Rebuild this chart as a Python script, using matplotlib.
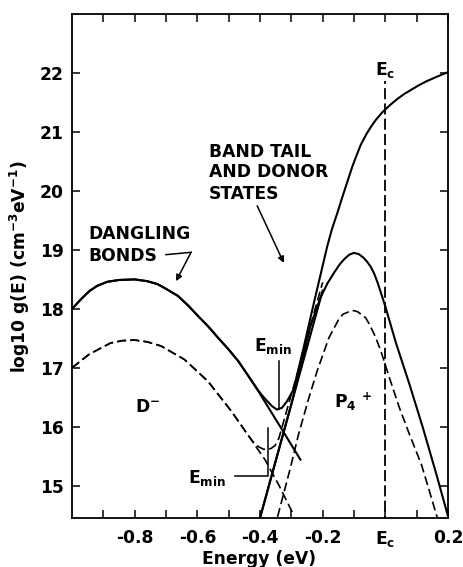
import matplotlib
matplotlib.use("Agg")
import matplotlib.pyplot as plt

# ---------------- data ----------------
# Dangling-bond density, solid (higher doping)
db_solid_E = [-1.0, -0.97, -0.945, -0.92, -0.887, -0.85, -0.80, -0.76, -0.727, -0.70,
              -0.662, -0.63, -0.598, -0.565, -0.534, -0.50, -0.469, -0.437, -0.405,
              -0.34, -0.271]
db_solid_y = [18.0, 18.17, 18.30, 18.39, 18.46, 18.49, 18.50, 18.47, 18.42, 18.34,
              18.22, 18.06, 17.88, 17.70, 17.51, 17.31, 17.11, 16.86, 16.60,
              16.04, 15.44]

# Total density of states, solid
tot_solid_E = [-1.0, -0.97, -0.945, -0.92, -0.887, -0.85, -0.80, -0.76, -0.727, -0.70,
               -0.662, -0.63, -0.598, -0.565, -0.534, -0.50, -0.469, -0.437, -0.405,
               -0.39, -0.378, -0.362, -0.346, -0.33, -0.314, -0.293, -0.26, -0.225,
               -0.185, -0.17, -0.153, -0.14, -0.126, -0.115, -0.105, -0.09, -0.078,
               -0.06, -0.046, -0.03, -0.009, 0.015, 0.04, 0.061, 0.08, 0.105, 0.13,
               0.16, 0.2]
tot_solid_y = [18.0, 18.17, 18.30, 18.39, 18.46, 18.49, 18.50, 18.47, 18.42, 18.34,
               18.22, 18.06, 17.88, 17.70, 17.51, 17.31, 17.11, 16.86, 16.61,
               16.51, 16.44, 16.35, 16.29, 16.32, 16.43, 16.63, 17.36, 18.17,
               19.07, 19.36, 19.63, 19.85, 20.08, 20.26, 20.42, 20.63, 20.79,
               20.97, 21.09, 21.21, 21.34, 21.46, 21.57, 21.65, 21.71, 21.79, 21.86,
               21.93, 22.02]

# Band tail (straight line)
tail_E = [-0.40, -0.30, -0.20]
tail_y = [14.45, 16.38, 18.31]

# P4+ donor states, solid
p4_solid_E = [-0.40, -0.35, -0.30, -0.26, -0.239, -0.207, -0.185, -0.164, -0.145, -0.13,
              -0.115, -0.10, -0.085, -0.07, -0.058, -0.046, -0.035, -0.025, -0.017,
              -0.009, 0.0, 0.034, 0.077, 0.12, 0.163, 0.2]
p4_solid_y = [14.45, 15.42, 16.38, 17.25, 17.71, 18.19, 18.43, 18.61, 18.76, 18.85,
              18.92, 18.95, 18.93, 18.87, 18.80, 18.71, 18.59, 18.45, 18.32,
              18.19, 18.04, 17.42, 16.72, 15.98, 15.19, 14.48]

# Dangling bonds, dashed (lower doping)
db_dash_E = [-1.0, -0.945, -0.877, -0.84, -0.80, -0.76, -0.716, -0.641, -0.566, -0.491,
             -0.44, -0.384, -0.34, -0.297]
db_dash_y = [17.0, 17.23, 17.42, 17.46, 17.47, 17.44, 17.37, 17.14, 16.77, 16.26,
             15.87, 15.44, 15.01, 14.55]

# Total, dashed
tot_dash_E = [-1.0, -0.945, -0.877, -0.84, -0.80, -0.76, -0.716, -0.641, -0.566, -0.491,
              -0.44, -0.42, -0.405, -0.39, -0.378, -0.365, -0.352, -0.34, -0.325,
              -0.30, -0.26, -0.225, -0.20]
tot_dash_y = [17.0, 17.23, 17.42, 17.46, 17.47, 17.44, 17.37, 17.14, 16.77, 16.26,
              15.87, 15.73, 15.66, 15.62, 15.61, 15.63, 15.68, 15.80, 16.08,
              16.55, 17.28, 17.98, 18.45]

# P4+ donor states, dashed
p4_dash_E = [-0.344, -0.303, -0.277, -0.244, -0.218, -0.18, -0.148, -0.135, -0.112,
             -0.10, -0.088, -0.063, -0.051, -0.032, -0.014, 0.013, 0.045, 0.077,
             0.115, 0.141, 0.166]
p4_dash_y = [14.47, 15.30, 15.87, 16.49, 16.94, 17.51, 17.83, 17.91, 17.96,
             17.97, 17.95, 17.85, 17.74, 17.53, 17.28, 16.83, 16.32, 15.87,
             15.36, 14.90, 14.45]

# Conduction-band edge
Ec = 0.0
Ec_top = 21.87

x_major = [-0.8, -0.6, -0.4, -0.2, 0.0, 0.2]
x_major_labels = ["-0.8", "-0.6", "-0.4", "-0.2", "E$_c$", "0.2"]
x_minor = [-0.9, -0.7, -0.5, -0.3, -0.1, 0.1]
y_ticks = [15, 16, 17, 18, 19, 20, 21, 22]
y_tick_labels = ["15", "16", "17", "18", "19", "20", "21", "22"]

# ---------------- style ----------------
plt.rcParams["font.family"] = ["DejaVu Sans"]
plt.rcParams["font.weight"] = "bold"
plt.rcParams["mathtext.fontset"] = "dejavusans"
plt.rcParams["mathtext.default"] = "bf"
plt.rcParams["axes.unicode_minus"] = False
plt.rcParams["lines.scale_dashes"] = False

FS = 12.3
LW = 1.5
DLW = 1.2
DASH = (6.5, 3.0)

fig = plt.figure(figsize=(4.64, 5.67), dpi=100)
ax = fig.add_axes([72 / 464, 49 / 567, 376 / 464, 503.7 / 567])

line_kw = dict(color="black", solid_joinstyle="round", dash_joinstyle="round")
ax.plot(db_solid_E, db_solid_y, lw=LW, **line_kw)
ax.plot(tot_solid_E, tot_solid_y, lw=LW, **line_kw)
ax.plot(tail_E, tail_y, lw=LW, **line_kw)
ax.plot(p4_solid_E, p4_solid_y, lw=LW, **line_kw)
ax.plot(db_dash_E, db_dash_y, lw=DLW, dashes=DASH, **line_kw)
ax.plot(tot_dash_E, tot_dash_y, lw=DLW, dashes=DASH, **line_kw)
ax.plot(p4_dash_E, p4_dash_y, lw=DLW, dashes=DASH, **line_kw)
ax.plot([Ec, Ec], [14.3, Ec_top], color="black", lw=1.3, dashes=(8, 3))

ax.set_xlim(-1.0, 0.2)
ax.set_ylim(14.45, 23.0)

ax.set_xticks(x_major)
ax.set_xticklabels(x_major_labels)
ax.set_xticks(x_minor, minor=True)
ax.set_yticks(y_ticks)
ax.set_yticklabels(y_tick_labels)

ax.tick_params(which="both", direction="in", top=True, right=True,
               length=6, width=1.1, labelsize=FS)
ax.tick_params(axis="x", which="major", pad=8)
ax.tick_params(axis="y", which="major", pad=6)
for lab in ax.get_xticklabels() + ax.get_yticklabels():
    lab.set_fontweight("bold")
for s in ax.spines.values():
    s.set_linewidth(1.3)

# axis labels
fig.text(259 / 464, 1 - 564 / 567, "Energy (eV)", ha="center", va="baseline",
         fontsize=FS, fontweight="bold")
fig.text(20 / 464, 1 - 267 / 567, "log10 g(E) (cm$^{-3}$eV$^{-1}$)",
         rotation=90, ha="center", va="center", fontsize=FS, fontweight="bold")

# text annotations
tk = dict(fontsize=FS, fontweight="bold", color="black")
ax.text(-0.948, 19.18, "DANGLING", ha="left", va="baseline", **tk)
ax.text(-0.948, 18.81, "BONDS", ha="left", va="baseline", **tk)
ax.plot([-0.700, -0.620], [18.92, 18.96], color="black", lw=1.1)
ax.annotate("", xy=(-0.668, 18.47), xytext=(-0.620, 18.96),
            arrowprops=dict(arrowstyle="-|>", color="black", lw=1.1,
                            mutation_scale=9, shrinkA=0, shrinkB=0))

ax.text(-0.564, 20.57, "BAND TAIL", ha="left", va="baseline", **tk)
ax.text(-0.564, 20.23, "AND DONOR", ha="left", va="baseline", **tk)
ax.text(-0.564, 19.86, "STATES", ha="left", va="baseline", **tk)
ax.annotate("", xy=(-0.324, 18.78), xytext=(-0.409, 19.75),
            arrowprops=dict(arrowstyle="-|>", color="black", lw=1.1,
                            mutation_scale=9, shrinkA=0, shrinkB=0))

ax.text(-0.034, 21.97, "E$_c$", ha="left", va="baseline", **tk)

# upper E_min
ax.text(-0.42, 17.29, "E$_{min}$", ha="left", va="baseline", **tk)
ax.plot([-0.34, -0.34], [17.12, 16.30], color="black", lw=1.1)

# lower E_min
ax.text(-0.63, 15.05, "E$_{min}$", ha="left", va="baseline", **tk)
ax.plot([-0.48, -0.375, -0.375], [15.17, 15.17, 15.97], color="black", lw=1.1)

ax.text(-0.80, 16.25, "D$^{-}$", ha="left", va="baseline", **tk)
ax.text(-0.164, 16.33, "P$_{4}$ $^{+}$", ha="left", va="baseline", **tk)

fig.savefig("out.png", dpi=100)
